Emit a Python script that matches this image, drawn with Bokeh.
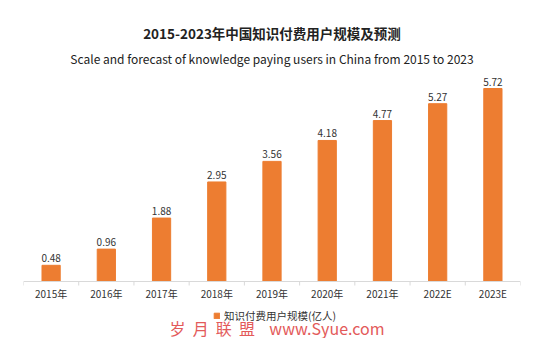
from bokeh.plotting import figure
from bokeh.models import (Range1d, ColumnDataSource, Legend, LegendItem, Title, LabelSet)
from bokeh.core.properties import value
from bokeh.embed import file_html
from bokeh.resources import INLINE

categories = ["2015年", "2016年", "2017年", "2018年", "2019年", "2020年", "2021年", "2022E", "2023E"]
values = [0.48, 0.96, 1.88, 2.95, 3.56, 4.18, 4.77, 5.27, 5.72]
labels = ["0.48", "0.96", "1.88", "2.95", "3.56", "4.18", "4.77", "5.27", "5.72"]
series_name = "知识付费用户规模(亿人)"
title_text = "2015-2023年中国知识付费用户规模及预测"
subtitle_text = "Scale and forecast of knowledge paying users in China from 2015 to 2023"
NB = "\u00a0"
watermark = (NB * 2).join("岁月联盟") + NB * 4 + "www.Syue.com"

FONT = "Noto Sans CJK SC"
ORANGE = "#ED7D31"
AXIS_GRAY = "#D9D9D9"

# layout (pixels)
FRAME_TOP, BASELINE, FRAME_BOTTOM = 70, 281, 338
PX_PER_UNIT = 33.74
y_top = (BASELINE - FRAME_TOP) / PX_PER_UNIT
y_bottom = -(FRAME_BOTTOM - BASELINE) / PX_PER_UNIT
tick_len = 4 / PX_PER_UNIT

n = len(categories)
centers = [i + 0.5 for i in range(n)]
bounds = list(range(n + 1))
src = ColumnDataSource(dict(x=centers, val=values, lab=labels, cat=categories))

p = figure(width=547, height=338, output_backend="svg", toolbar_location=None,
           x_range=Range1d(0, n), y_range=Range1d(y_bottom, y_top),
           x_axis_location=None, y_axis_location=None,
           min_border_left=23, min_border_right=27, min_border_top=FRAME_TOP, min_border_bottom=0)
p.outline_line_color = None
p.grid.grid_line_color = None
p.background_fill_color = "white"

r = p.vbar(x="x", top="val", bottom=0, width=0.33, color=ORANGE, source=src)

# value labels
p.add_layout(LabelSet(x="x", y="val", text="lab", source=src, text_align="center",
                      text_baseline="bottom", y_offset=3, text_font=value(FONT),
                      text_font_size="10px", text_color="#333333"))

# category axis: baseline, boundary ticks, labels
p.segment(x0=[0], y0=[0], x1=[n], y1=[0], line_color=AXIS_GRAY, line_width=1)
p.segment(x0=bounds, y0=[0] * len(bounds), x1=bounds, y1=[-tick_len] * len(bounds),
          line_color=AXIS_GRAY, line_width=1)
p.text(x="x", y=0, text="cat", source=src, y_offset=12, text_align="center",
       text_baseline="middle", text_font=value(FONT), text_font_size="10px",
       text_color="#333333")

# watermark
p.text(x=[n / 2], y=[0], text=[watermark], x_offset=5, y_offset=46, text_align="center",
       text_baseline="middle", text_font=value(FONT), text_font_size="16px",
       text_color="#E35A5A")

legend = Legend(items=[LegendItem(label=series_name, renderers=[r])], location=(190, 15),
                orientation="horizontal", label_text_font=FONT, label_text_font_size="10.5px",
                label_text_color="#333333", glyph_width=7, glyph_height=7, label_height=12,
                label_standoff=4, border_line_color=None, background_fill_alpha=0,
                padding=0, margin=0)
p.add_layout(legend)

p.title.text = title_text
p.title.align = "center"
p.title.text_font = FONT
p.title.text_font_size = "13.5px"
p.title.text_font_style = "bold"
p.title.text_color = "#222222"
p.title.standoff = 2
p.add_layout(Title(text=subtitle_text, align="center", text_font=FONT, text_font_size="12px",
                   text_font_style="normal", text_color="#222222", standoff=8), "above")

open("out.html", "w").write(file_html(p, INLINE))
